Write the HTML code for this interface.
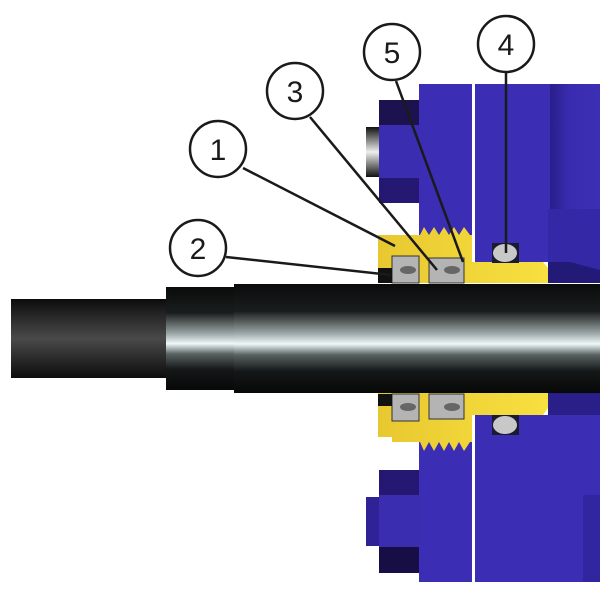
<!DOCTYPE html>
<html><head><style>body{margin:0;background:#fff}svg{display:block}</style></head><body>
<svg width="600" height="600" xmlns="http://www.w3.org/2000/svg">
<defs>
<linearGradient id="sh" x1="0" y1="0" x2="0" y2="1">
<stop offset="0" stop-color="#0a0c0c"/><stop offset="0.25" stop-color="#1a1d1d"/><stop offset="0.45" stop-color="#9aa5a5"/><stop offset="0.55" stop-color="#eef8f8"/><stop offset="0.65" stop-color="#5a6262"/><stop offset="0.8" stop-color="#151818"/><stop offset="1" stop-color="#070808"/></linearGradient>
<linearGradient id="sh2" x1="0" y1="0" x2="0" y2="1">
<stop offset="0" stop-color="#0c0c0c"/><stop offset="0.5" stop-color="#4a4a4a"/><stop offset="1" stop-color="#0c0c0c"/></linearGradient>
<linearGradient id="pin" x1="0" y1="0" x2="0" y2="1">
<stop offset="0" stop-color="#111"/><stop offset="0.5" stop-color="#eee"/><stop offset="1" stop-color="#111"/></linearGradient>
<linearGradient id="rt" x1="0" y1="0" x2="1" y2="0">
<stop offset="0" stop-color="#2a1e8a"/><stop offset="0.4" stop-color="#3a2cb0"/><stop offset="1" stop-color="#3d2fb4"/></linearGradient>
<linearGradient id="yl" x1="0" y1="0" x2="1" y2="0">
<stop offset="0" stop-color="#e8c830"/><stop offset="1" stop-color="#f8e040"/></linearGradient>
</defs>
<!-- top blue -->
<rect x="366" y="127" width="14" height="50" fill="url(#pin)"/>
<rect x="379" y="100" width="41" height="103" fill="#3a2db0"/>
<rect x="379" y="100" width="41" height="25" fill="#1c124f"/>
<rect x="379" y="178" width="41" height="25" fill="#241873"/>
<rect x="419" y="84" width="53" height="152" fill="#3b2db4"/>
<rect x="475" y="84" width="75" height="178" fill="#3b2db4"/>
<rect x="550" y="84" width="50" height="125" fill="url(#rt)"/>
<rect x="548" y="209" width="52" height="74" fill="#3428a6"/>
<polygon points="548,262 570,262 600,270 600,283 548,283" fill="#231a78"/>
<!-- bottom blue -->
<rect x="366" y="497" width="14" height="49" fill="#2e2296"/>
<rect x="379" y="470" width="41" height="103" fill="#3a2db0"/>
<rect x="379" y="470" width="41" height="25" fill="#241873"/>
<rect x="379" y="547" width="41" height="26" fill="#160e45"/>
<rect x="419" y="440" width="53" height="142" fill="#3b2db4"/>
<rect x="475" y="415" width="125" height="167" fill="#3b2db4"/>
<rect x="548" y="393" width="52" height="22" fill="#2a1f88"/>
<rect x="583" y="495" width="17" height="87" fill="#3126a0"/>
<!-- yellow top -->
<polygon points="378,235 420,235 424,227 429,235 434,227 439,235 444,227 449,235 454,227 459,235 464,227 470,235 472,235 472,262 543,262 548,268 548,283 378,283" fill="url(#yl)"/>
<!-- yellow bottom -->
<polygon points="378,393 548,393 548,408 543,415 472,415 472,442 470,442 464,451 459,442 454,451 449,442 444,451 439,442 434,451 429,442 424,451 420,442 392,442 392,437 378,437" fill="url(#yl)"/>
<!-- o-rings -->
<rect x="492" y="243" width="27" height="20" fill="#1a1a30"/>
<ellipse cx="505" cy="253" rx="12" ry="9" fill="#c8c8c8"/>
<rect x="492" y="415" width="27" height="20" fill="#1a1a30"/>
<ellipse cx="505" cy="425" rx="12" ry="9" fill="#c8c8c8"/>
<!-- seals -->
<g fill="#b4b4b4" stroke="#333" stroke-width="1">
<rect x="392" y="256" width="27" height="27"/><rect x="429" y="258" width="35" height="25"/>
<rect x="392" y="394" width="27" height="27"/><rect x="429" y="394" width="35" height="25"/>
</g>
<rect x="378" y="268" width="14" height="15" fill="#111"/>
<rect x="378" y="394" width="14" height="12" fill="#111"/>
<g fill="#666"><ellipse cx="408" cy="270" rx="8" ry="4"/><ellipse cx="452" cy="270" rx="8" ry="4"/><ellipse cx="408" cy="407" rx="8" ry="4"/><ellipse cx="452" cy="407" rx="8" ry="4"/></g>
<!-- shaft -->
<rect x="11" y="299" width="156" height="79" fill="url(#sh2)"/>
<rect x="166" y="287" width="69" height="103" fill="url(#sh)"/>
<rect x="234" y="284" width="366" height="109" fill="url(#sh)"/>
<!-- leaders -->
<g stroke="#1a1a1a" stroke-width="2.5" fill="none">
<line x1="243" y1="168" x2="395" y2="246"/>
<line x1="226" y1="257" x2="391" y2="275"/>
<line x1="310" y1="117" x2="437" y2="270"/>
<line x1="396" y1="81" x2="463" y2="262"/>
<line x1="506" y1="73" x2="506" y2="253"/>
</g>
<g stroke="#1a1a1a" stroke-width="2.5" fill="#fff">
<circle cx="218" cy="149" r="28"/><circle cx="198" cy="248" r="28"/><circle cx="295" cy="91" r="28"/><circle cx="392" cy="52" r="28"/><circle cx="506" cy="44" r="28"/>
</g>
<g font-family="Liberation Sans, sans-serif" font-size="30" fill="#1a1a1a" text-anchor="middle">
<text x="218" y="160">1</text><text x="198" y="259">2</text><text x="295" y="102">3</text><text x="392" y="63">5</text><text x="506" y="55">4</text>
</g>
</svg>
</body></html>
